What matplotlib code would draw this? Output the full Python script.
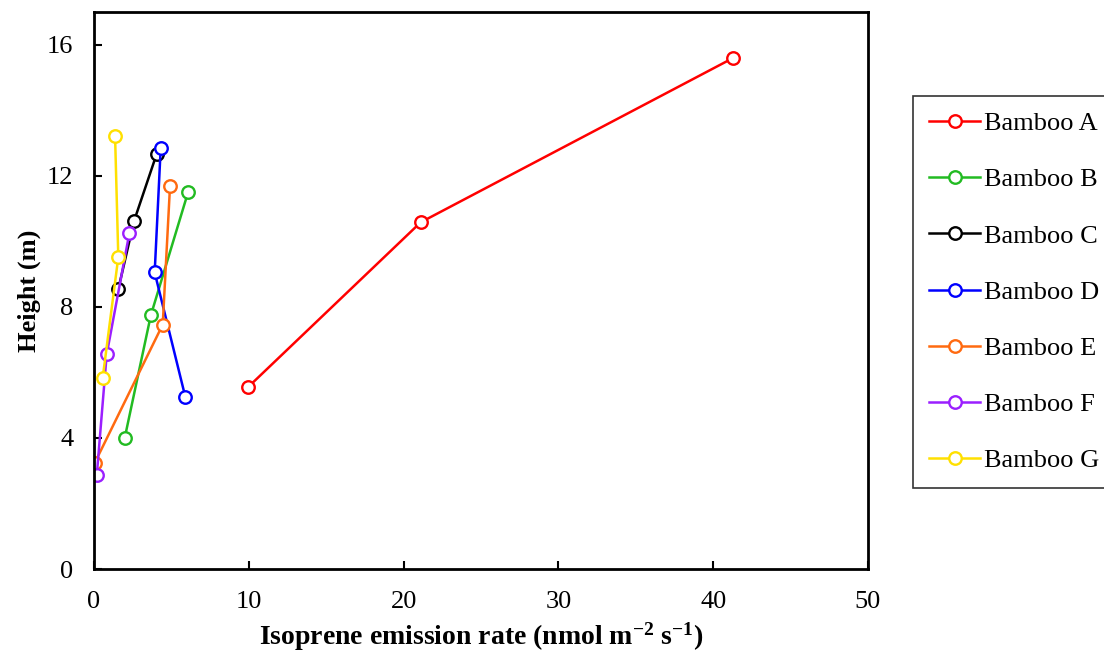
import matplotlib
matplotlib.use("Agg")
import matplotlib.pyplot as plt

plt.rcParams['font.family'] = ['Liberation Serif', 'DejaVu Serif']
plt.rcParams['mathtext.fontset'] = 'custom'
plt.rcParams['mathtext.rm'] = 'Liberation Serif:bold'
plt.rcParams['mathtext.default'] = 'rm'

labels = ["Bamboo A", "Bamboo B", "Bamboo C", "Bamboo D", "Bamboo E", "Bamboo F", "Bamboo G"]
colors = ["#FF0000", "#22BB22", "#000000", "#0000FF", "#FF6A10", "#9B1FFF", "#FFE000"]

# emission rate (x) and height (y) per bamboo
rate_a = [9.95, 21.1, 41.3]
height_a = [5.55, 10.58, 15.6]
rate_b = [1.98, 3.67, 6.09]
height_b = [3.99, 7.74, 11.52]
rate_c = [1.57, 2.58, 4.05]
height_c = [8.54, 10.61, 12.67]
rate_d = [5.90, 3.92, 4.31]
height_d = [5.25, 9.05, 12.86]
rate_e = [0.06, 4.44, 4.91]
height_e = [3.25, 7.46, 11.68]
rate_f = [0.18, 0.82, 2.28]
height_f = [2.87, 6.55, 10.24]
rate_g = [0.56, 1.57, 1.36]
height_g = [5.83, 9.52, 13.23]

rates = [rate_a, rate_b, rate_c, rate_d, rate_e, rate_f, rate_g]
heights = [height_a, height_b, height_c, height_d, height_e, height_f, height_g]

fig = plt.figure(figsize=(11.04, 6.6), dpi=100)
ax = fig.add_axes([94/1104, 91/660, 774/1104, 557/660])

for x, y, lab, c in zip(rates, heights, labels, colors):
    ax.plot(x, y, color=c, lw=1.8, marker='o', ms=9, mfc='white',
            mec=c, mew=1.7, label=lab)

ax.set_xlim(0, 50)
ax.set_ylim(0, 17)
ax.set_xticks([0, 10, 20, 30, 40, 50])
ax.set_yticks([0, 4, 8, 12, 16])
ax.tick_params(direction='in', length=5.5, width=1.5, labelsize=19)
ax.tick_params(axis='x', pad=16)
ax.tick_params(axis='y', pad=15)
for s in ax.spines.values():
    s.set_linewidth(2)

ax.set_xlabel(r"Isoprene emission rate (nmol m$^{-2}$ s$^{-1}$)",
              fontsize=20, fontweight='bold', labelpad=5)
ax.set_ylabel("Height (m)", fontsize=19, fontweight='bold', labelpad=4)

leg = fig.legend(loc='upper left', bbox_to_anchor=(913/1104, (660-96)/660),
                 fontsize=19, frameon=True, fancybox=False, edgecolor='black',
                 handlelength=1.95, labelspacing=1.24, borderpad=0.6,
                 handletextpad=0.15, borderaxespad=0)
leg.get_frame().set_linewidth(1.2)

fig.savefig("out.png", dpi=100)
